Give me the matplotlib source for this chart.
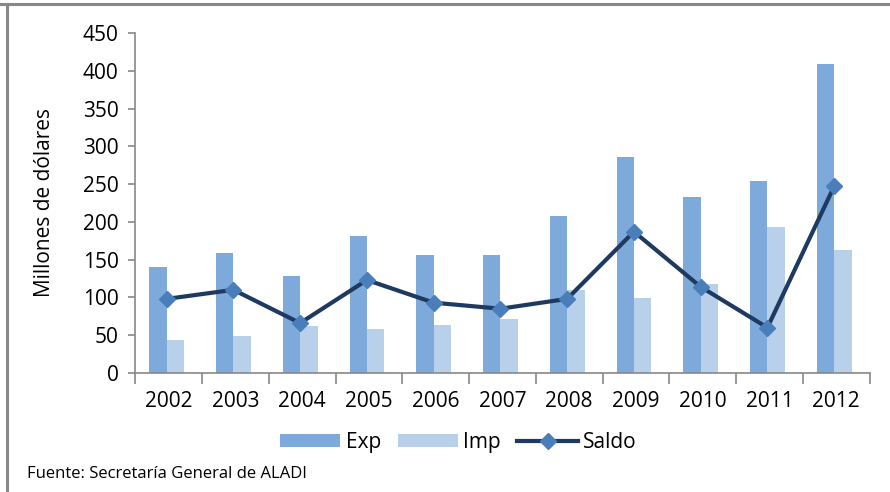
import numpy as np
import matplotlib.pyplot as plt
from matplotlib.lines import Line2D

plt.rcParams['font.family'] = ['Open Sans', 'DejaVu Sans']

years = ['2002', '2003', '2004', '2005', '2006', '2007', '2008', '2009', '2010', '2011', '2012']
exp_vals = [140, 159, 128, 181, 156, 156, 208, 286, 233, 254, 409]
imp_vals = [43, 49, 62, 58, 64, 71, 110, 99, 118, 193, 163]
saldo_vals = [98, 110, 66, 123, 93, 85, 98, 187, 114, 60, 247]

c_exp = '#7EAADB'
c_imp = '#B9D0EB'
c_line = '#1F3A60'
c_marker = '#4A7EBB'
c_axis = '#888888'

fig = plt.figure(figsize=(8.9, 4.92), dpi=100)
ax = fig.add_axes([0.152, 0.242, 0.825, 0.691])

x = np.arange(len(years))
w = 0.26
b1 = ax.bar(x - 0.16, exp_vals, width=w, color=c_exp, label='Exp')
b2 = ax.bar(x + 0.10, imp_vals, width=w, color=c_imp, label='Imp')
l1, = ax.plot(x - 0.03, saldo_vals, color=c_line, linewidth=3, marker='D', markersize=8,
              markerfacecolor=c_marker, markeredgecolor=c_marker, label='Saldo')

ax.set_xlim(-0.5, len(years) - 0.5)
ax.set_ylim(0, 450)
ax.set_yticks(range(0, 451, 50))
ax.set_xticks(np.arange(-0.5, len(years), 1.0))
ax.set_xticklabels([])
ax.set_xticks(x, minor=True)
ax.set_xticklabels(years, minor=True)
ax.tick_params(axis='x', which='major', length=8, color=c_axis, width=1.2)
ax.tick_params(axis='x', which='minor', length=0, labelsize=15, pad=13)
ax.tick_params(axis='y', length=5, color=c_axis, width=1.2, labelsize=15, pad=7)

for side in ['top', 'right']:
    ax.spines[side].set_visible(False)
for side in ['left', 'bottom']:
    ax.spines[side].set_color(c_axis)
    ax.spines[side].set_linewidth(1.2)

ax.set_ylabel('Millones de dólares', fontsize=15, labelpad=20)

ax.legend([b1, b2, l1], ['Exp', 'Imp', 'Saldo'], loc='center',
          bbox_to_anchor=(0.44, -0.205), ncol=3, frameon=False,
          fontsize=15, handlelength=2.9, handleheight=0.6, columnspacing=0.8,
          handletextpad=0.25)

fig.text(0.03, 0.028, 'Fuente: Secretaría General de ALADI', fontsize=12)

# marco recortado (arriba e izquierda)
fig.add_artist(Line2D([0, 1], [0.991, 0.991], color='#888888', linewidth=2.2))
fig.add_artist(Line2D([0.0075, 0.0075], [0, 0.991], color='#888888', linewidth=2.2))

fig.savefig('out.png', dpi=100)
